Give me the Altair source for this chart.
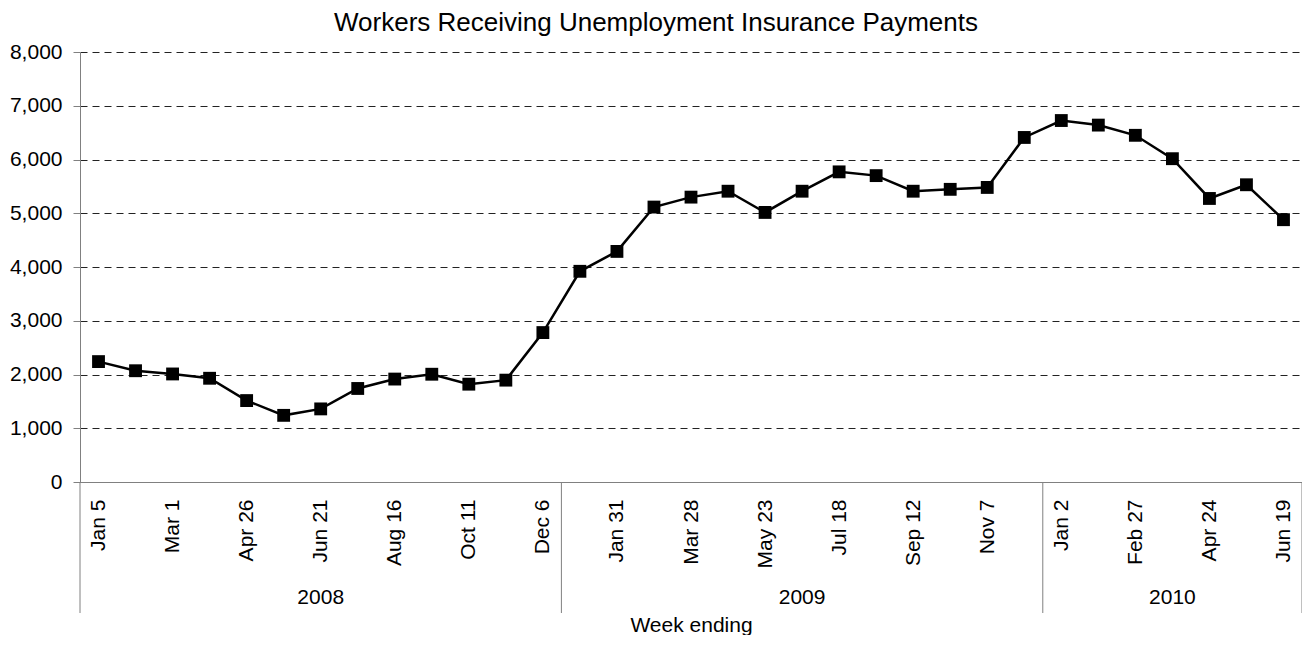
import altair as alt
import pandas as pd

# ---- data ----
week_labels = ["Jan 5", "Feb 2", "Mar 1", "Mar 29", "Apr 26", "May 24", "Jun 21", "Jul 19",
               "Aug 16", "Sep 13", "Oct 11", "Nov 8", "Dec 6",
               "Jan 3", "Jan 31", "Feb 28", "Mar 28", "Apr 25", "May 23", "Jun 20", "Jul 18",
               "Aug 15", "Sep 12", "Oct 10", "Nov 7", "Dec 5",
               "Jan 2", "Jan 30", "Feb 27", "Mar 27", "Apr 24", "May 22", "Jun 19"]
years = [2008] * 13 + [2009] * 13 + [2010] * 7
workers = [2240, 2070, 2010, 1930, 1515, 1240, 1360, 1740, 1915, 2005, 1820, 1895, 2780,
           3920, 4290, 5115, 5300, 5410, 5015, 5410, 5770, 5700, 5410, 5445, 5480, 6410,
           6725, 6640, 6450, 6015, 5275, 5530, 4880]
y_ticks = [0, 1000, 2000, 3000, 4000, 5000, 6000, 7000, 8000]

FONT = "Liberation Sans"

df = pd.DataFrame({"i": list(range(len(workers))), "week": week_labels,
                   "year": years, "value": workers})

# year groups -> boundaries and centers
grp = df.groupby("year")["i"].agg(["min", "max"]).reset_index()
bounds = sorted(set([r - 0.5 for r in grp["min"]] + [r + 0.5 for r in grp["max"]]))
bounds_df = pd.DataFrame({"i": bounds})
years_df = pd.DataFrame({"i": (grp["min"] + grp["max"]) / 2.0, "year": grp["year"].astype(str)})

n = len(workers)
label_js = "[" + ",".join("'" + s + "'" for s in week_labels) + "]"

x_scale = alt.Scale(domain=[-0.5, n - 0.5], nice=False, zero=False)
y_scale = alt.Scale(domain=[0, 8000], nice=False)

x_enc = alt.X(
    "i:Q", scale=x_scale,
    axis=alt.Axis(values=list(range(0, n, 2)), labelExpr=label_js + "[datum.value]",
                  labelAngle=-90, labelFontSize=21, labelPadding=17, labelColor="black",
                  ticks=False, tickSize=0, grid=False, domainColor="#808080",
                  domainWidth=1, zindex=1, title="Week ending", titleFontSize=21,
                  titleFontWeight="normal", titleColor="black", titleBaseline="alphabetic",
                  titleY=149, labelFlush=False, labelOverlap=False),
)
y_enc = alt.Y(
    "value:Q", scale=y_scale,
    axis=alt.Axis(values=y_ticks, format=",.0f", labelFontSize=21, labelPadding=11,
                  labelColor="black", tickSize=7, tickColor="#808080",
                  domainColor="#808080", grid=True, gridDash=[7, 5], gridColor="#222222",
                  gridWidth=1, title=None, labelFlush=False),
)

base = alt.Chart(df)
line = base.mark_line(color="black", strokeWidth=2.5).encode(x=x_enc, y=y_enc)
pts = base.mark_square(color="black", size=165, opacity=1).encode(x="i:Q", y="value:Q")

seps = alt.Chart(bounds_df).mark_rule(color="#808080", strokeWidth=1).encode(
    x="i:Q", y=alt.value(430), y2=alt.value(561))

year_text = alt.Chart(years_df).mark_text(fontSize=21, baseline="middle", align="center",
                                          color="black", font=FONT).encode(
    x="i:Q", y=alt.value(546), text="year:N")

chart = alt.layer(line, pts, seps, year_text).properties(
    width=1222, height=430,
    padding={"left": 72, "top": 44, "right": 0, "bottom": 153},
    autosize=alt.AutoSizeParams(type="none"),
    title=alt.TitleParams("Workers Receiving Unemployment Insurance Payments",
                          fontSize=26, font=FONT, fontWeight="normal", color="black",
                          anchor="middle", frame="group", offset=5, dx=-35),
).configure(font=FONT).configure_view(stroke=None)

chart.save("out.html", embed_options={"renderer": "svg", "actions": False})
